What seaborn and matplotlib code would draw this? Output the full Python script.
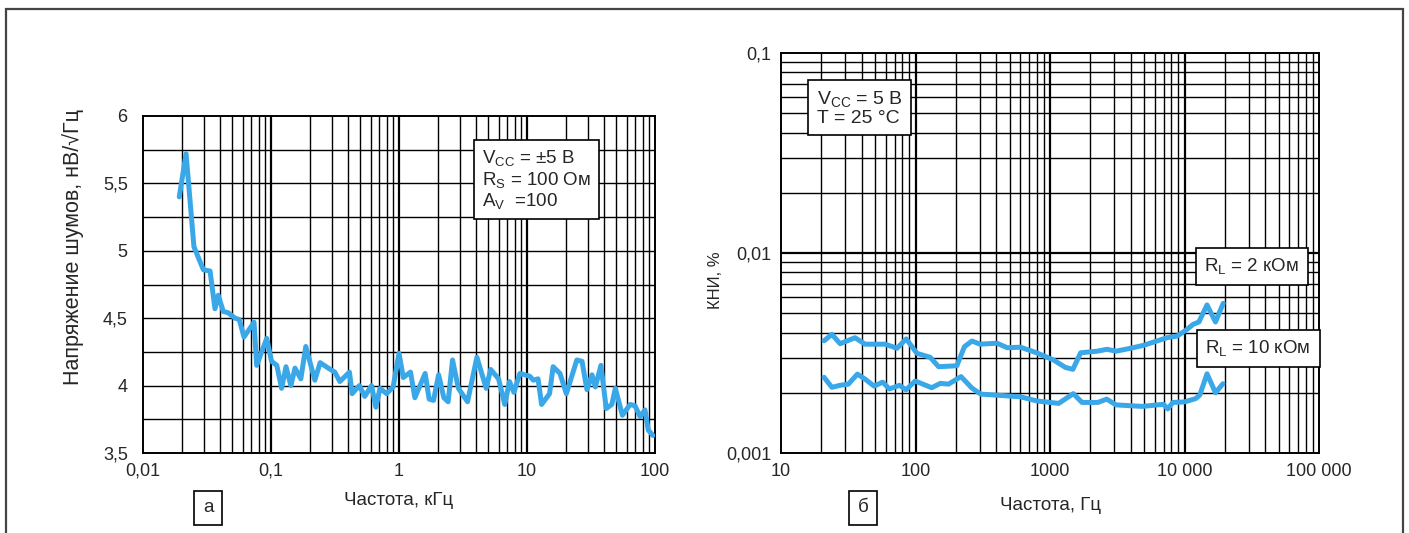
import numpy as np
import pandas as pd
import matplotlib
matplotlib.use("Agg")
import matplotlib.pyplot as plt
import seaborn as sns
from matplotlib.ticker import FixedLocator, FixedFormatter, NullFormatter
from matplotlib.patches import Rectangle

# ---------------- data ----------------
noise_freq_khz = [0.0192, 0.0217, 0.025, 0.0296, 0.0334, 0.0365, 0.0387, 0.0424, 0.0464, 0.0524,
                  0.0565, 0.0615, 0.0737, 0.0773, 0.0926, 0.101, 0.111, 0.121, 0.131, 0.143,
                  0.154, 0.171, 0.187, 0.220, 0.242, 0.280, 0.315, 0.345, 0.41, 0.43,
                  0.49, 0.54, 0.61, 0.66, 0.71, 0.80, 0.90, 1.0, 1.08, 1.23,
                  1.33, 1.60, 1.72, 1.86, 2.04, 2.24, 2.42, 2.62, 2.91, 3.43,
                  4.06, 4.8, 5.2, 6.0, 6.7, 7.3, 7.9, 8.8, 10.5, 11.2,
                  12.2, 13.0, 15.0, 16.0, 18.1, 20.3, 24.5, 26.9, 29.4, 32.2,
                  34.2, 37.8, 41.6, 46.0, 49.0, 55.6, 63.9, 69.8, 76.4, 83.5,
                  88.6, 96.4]
noise_nv = [5.40, 5.72, 5.03, 4.86, 4.85, 4.57, 4.67, 4.55, 4.54, 4.50,
            4.49, 4.36, 4.47, 4.15, 4.35, 4.18, 4.15, 3.98, 4.14, 4.00,
            4.13, 4.05, 4.29, 4.04, 4.17, 4.13, 4.10, 4.03, 4.10, 3.94,
            4.00, 3.92, 4.00, 3.84, 3.98, 3.94, 3.99, 4.24, 4.06, 4.10,
            3.91, 4.09, 3.90, 3.89, 4.08, 3.91, 3.88, 4.19, 3.98, 3.88,
            4.21, 3.98, 4.12, 4.05, 3.86, 4.03, 3.95, 4.09, 4.07, 4.04,
            4.05, 3.86, 3.94, 4.14, 4.09, 3.94, 4.19, 4.18, 3.97, 4.08,
            3.99, 4.15, 3.83, 3.86, 3.98, 3.78, 3.86, 3.85, 3.77, 3.82,
            3.67, 3.63]

thd_freq_2k = [20.9, 23.9, 27.5, 35.5, 42.2, 59.5, 72.9, 85.3, 102.5, 128.6,
               148.6, 203, 231, 263, 302, 404, 480, 604, 795, 1060,
               1300, 1480, 1690, 2250, 2650, 3100, 3980, 5000, 6300, 7500,
               8800, 10200, 11600, 12800, 14700, 17000, 19400]
thd_2k = [0.00364, 0.00392, 0.00352, 0.00377, 0.00350, 0.00350, 0.00334, 0.00372, 0.00315, 0.00301,
          0.00270, 0.00273, 0.00340, 0.00363, 0.00350, 0.00354, 0.00336, 0.00338, 0.00317, 0.00292,
          0.00268, 0.00262, 0.00317, 0.00323, 0.00330, 0.00323, 0.00334, 0.00346, 0.00364, 0.00378,
          0.00384, 0.00410, 0.00440, 0.00452, 0.00550, 0.00452, 0.00560]

thd_freq_10k = [20.9, 23.9, 27.5, 31.7, 37.0, 42.2, 49.2, 57, 64, 76,
                85, 99.5, 132, 153, 176, 218, 263, 306, 604, 800,
                1160, 1490, 1730, 2270, 2640, 3090, 4870, 6300, 7000, 7500,
                8200, 9950, 12100, 13000, 14700, 17000, 19300]
thd_10k = [0.00239, 0.00213, 0.00218, 0.00221, 0.00248, 0.00234, 0.00216, 0.00226, 0.00209, 0.00218,
           0.00207, 0.00229, 0.00212, 0.00223, 0.00221, 0.00241, 0.00211, 0.00197, 0.00191, 0.00182,
           0.00177, 0.00198, 0.00179, 0.00179, 0.00186, 0.00174, 0.00171, 0.00174, 0.00175, 0.00166,
           0.00179, 0.00180, 0.00187, 0.00195, 0.00249, 0.00200, 0.00222]

left_yticks = [3.5, 4, 4.5, 5, 5.5, 6]
left_yticklabels = ["3,5", "4", "4,5", "5", "5,5", "6"]
left_xticks = [0.01, 0.1, 1, 10, 100]
left_xticklabels = ["0,01", "0,1", "1", "10", "100"]
right_yticks = [0.001, 0.01, 0.1]
right_yticklabels = ["0,001", "0,01", "0,1"]
right_xticks = [10, 100, 1000, 10000, 100000]
right_xticklabels = ["10", "100", "1000", "10 000", "100 000"]

# ---------------- style ----------------
sns.set_style("white")
plt.rcParams['font.family'] = ['Liberation Sans', 'DejaVu Sans']
plt.rcParams['mathtext.fontset'] = 'custom'
plt.rcParams['mathtext.rm'] = 'Liberation Sans'
plt.rcParams['mathtext.it'] = 'Liberation Sans'

LINE = '#3aa8e8'
TICK_FS = 13
LAB_FS = 13.5
BOX_FS = 13.5

W, H = 1409, 533
fig = plt.figure(figsize=(W / 100, H / 100), dpi=100)

def ax_rect(x0, x1, y0, y1):
    return [x0 / W, 1 - y1 / H, (x1 - x0) / W, (y1 - y0) / H]

axL = fig.add_axes(ax_rect(143, 655, 116, 453))
axR = fig.add_axes(ax_rect(781, 1319, 53, 453))

# --------- left chart ---------
dfL = pd.DataFrame({"f": noise_freq_khz, "v": noise_nv})
axL.set_xscale("log")
axL.set_xlim(0.01, 100)
axL.set_ylim(3.5, 6)
minor = [m * 10.0 ** e for e in range(-2, 2) for m in range(2, 10)]
for xv in minor:
    axL.axvline(xv, color='black', lw=1.0, zorder=1)
for xv in left_xticks[1:-1]:
    axL.axvline(xv, color='black', lw=1.6, zorder=1)
for yv in np.arange(3.75, 6.0, 0.25):
    axL.axhline(yv, color='black', lw=1.0, zorder=1)
sns.lineplot(data=dfL, x="f", y="v", ax=axL, color=LINE, lw=3.6,
             estimator=None, sort=False, zorder=3)
axL.xaxis.set_major_locator(FixedLocator(left_xticks))
axL.xaxis.set_major_formatter(FixedFormatter(left_xticklabels))
axL.xaxis.set_minor_formatter(NullFormatter())
axL.set_yticks(left_yticks)
axL.set_yticklabels(left_yticklabels)
axL.tick_params(axis='both', which='both', length=0, labelsize=TICK_FS)
axL.tick_params(axis='y', pad=11)
axL.tick_params(axis='x', pad=7)
axL.set_xlabel("Частота, кГц", fontsize=LAB_FS)
axL.xaxis.set_label_coords(0.5, -0.115, transform=axL.transAxes)
axL.set_ylabel("Напряжение шумов, нВ/√Гц", fontsize=15.5)
axL.yaxis.set_label_coords(-0.115, 0.611, transform=axL.transAxes)
for s in axL.spines.values():
    s.set_color('black'); s.set_linewidth(1.4)

axL.text(0.662, 0.905, "V$_{\\mathrm{CC}}$ = ±5 В\nR$_{\\mathrm{S}}$ = 100 Ом\nA$_{\\mathrm{V}}$  =100",
         transform=axL.transAxes, fontsize=BOX_FS, va='top', ha='left', linespacing=1.1,
         bbox=dict(boxstyle='square,pad=0.42', fc='white', ec='black', lw=1.2), zorder=5)

# --------- right chart ---------
dfR = pd.concat([
    pd.DataFrame({"f": thd_freq_2k, "thd": thd_2k, "RL": "2 кОм"}),
    pd.DataFrame({"f": thd_freq_10k, "thd": thd_10k, "RL": "10 кОм"}),
])
axR.set_xscale("log")
axR.set_yscale("log")
axR.set_xlim(10, 100000)
axR.set_ylim(0.001, 0.1)
minorx = [m * 10.0 ** e for e in range(1, 5) for m in range(2, 10)]
for xv in minorx:
    axR.axvline(xv, color='black', lw=1.0, zorder=1)
for xv in right_xticks[1:-1]:
    axR.axvline(xv, color='black', lw=1.6, zorder=1)
minory = [m * 10.0 ** e for e in range(-3, -1) for m in range(2, 10)]
for yv in minory:
    axR.axhline(yv, color='black', lw=1.0, zorder=1)
axR.axhline(0.01, color='black', lw=1.6, zorder=1)
sns.lineplot(data=dfR, x="f", y="thd", units="RL", ax=axR, color=LINE, lw=3.6,
             estimator=None, sort=False, zorder=3, legend=False)
axR.xaxis.set_major_locator(FixedLocator(right_xticks))
axR.xaxis.set_major_formatter(FixedFormatter(right_xticklabels))
axR.xaxis.set_minor_formatter(NullFormatter())
axR.yaxis.set_major_locator(FixedLocator(right_yticks))
axR.yaxis.set_major_formatter(FixedFormatter(right_yticklabels))
axR.yaxis.set_minor_formatter(NullFormatter())
axR.tick_params(axis='both', which='both', length=0, labelsize=TICK_FS)
axR.tick_params(axis='y', pad=7)
axR.tick_params(axis='x', pad=7)
axR.set_xlabel("Частота, Гц", fontsize=LAB_FS)
axR.xaxis.set_label_coords(0.5, -0.11, transform=axR.transAxes)
axR.set_ylabel("КНИ, %", fontsize=12)
axR.yaxis.set_label_coords(-0.108, 0.432, transform=axR.transAxes)
for s in axR.spines.values():
    s.set_color('black'); s.set_linewidth(1.4)

axR.text(0.066, 0.91, "V$_{\\mathrm{CC}}$ = 5 В\nT = 25 °C",
         transform=axR.transAxes, fontsize=14, va='top', ha='left', linespacing=1.1,
         bbox=dict(boxstyle='square,pad=0.42', fc='white', ec='black', lw=1.2), zorder=5)
axR.text(0.787, 0.4665, "R$_{\\mathrm{L}}$ = 2 кОм",
         transform=axR.transAxes, fontsize=BOX_FS, va='center', ha='left',
         bbox=dict(boxstyle='square,pad=0.47', fc='white', ec='black', lw=1.2), zorder=5)
axR.text(0.789, 0.2615, "R$_{\\mathrm{L}}$ = 10 кОм",
         transform=axR.transAxes, fontsize=BOX_FS, va='center', ha='left',
         bbox=dict(boxstyle='square,pad=0.47', fc='white', ec='black', lw=1.2), zorder=5)

# panel letters
fig.text(208 / W, 1 - 508 / H, "а", fontsize=LAB_FS, ha='center', va='center',
         bbox=dict(boxstyle='square,pad=0.45', fc='white', ec='black', lw=1.2))
fig.text(863 / W, 1 - 508 / H, "б", fontsize=LAB_FS, ha='center', va='center',
         bbox=dict(boxstyle='square,pad=0.45', fc='white', ec='black', lw=1.2))

# outer frame
fig.patches.append(Rectangle((6 / W, -0.05), (1403 - 6) / W, 1.05 - 9 / H,
                             transform=fig.transFigure, fill=False, ec='#444444', lw=1.6))

fig.savefig("out.png", dpi=100)
